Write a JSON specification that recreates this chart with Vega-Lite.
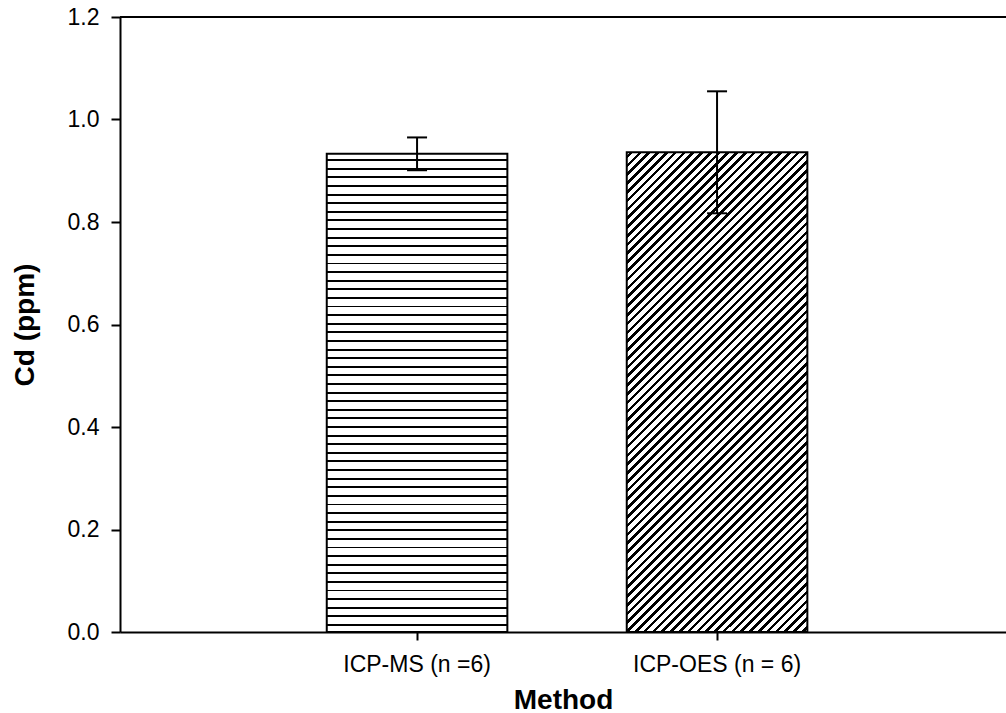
{
  "$schema": "https://vega.github.io/schema/vega-lite/v6.json",
  "autosize": "none",
  "padding": {"left": 120, "top": 17, "right": 0, "bottom": 81},
  "width": 886,
  "height": 615,
  "background": "white",
  "config": {
    "view": {"stroke": null},
    "font": "Liberation Sans",
    "axis": {
      "domainColor": "black", "domainWidth": 2, "tickColor": "black", "tickWidth": 2,
      "labelColor": "black", "titleColor": "black", "labelFont": "Liberation Sans", "titleFont": "Liberation Sans",
      "grid": false
    }
  },
  "data": {"values": [
    {"method": "ICP-MS (n =6)", "mean": 0.933, "lo": 0.901, "hi": 0.965},
    {"method": "ICP-OES (n = 6)", "mean": 0.936, "lo": 0.817, "hi": 1.055}
  ]},
  "layer": [
    {
      "transform": [{"filter": "datum.method === 'ICP-MS (n =6)'"}],
      "mark": {"type": "bar", "stroke": "black", "strokeWidth": 2, "fill": {"gradient": "linear", "x1": 0, "y1": 0, "x2": 0, "y2": 1, "stops": [
        {"offset": 0, "color": "#fff"},
        {"offset": 0.0113, "color": "#fff"}, {"offset": 0.0113, "color": "#000"}, {"offset": 0.0153, "color": "#000"}, {"offset": 0.0153, "color": "#fff"},
        {"offset": 0.0293, "color": "#fff"}, {"offset": 0.0293, "color": "#000"}, {"offset": 0.0333, "color": "#000"}, {"offset": 0.0333, "color": "#fff"},
        {"offset": 0.0473, "color": "#fff"}, {"offset": 0.0473, "color": "#000"}, {"offset": 0.0513, "color": "#000"}, {"offset": 0.0513, "color": "#fff"},
        {"offset": 0.0653, "color": "#fff"}, {"offset": 0.0653, "color": "#000"}, {"offset": 0.0693, "color": "#000"}, {"offset": 0.0693, "color": "#fff"},
        {"offset": 0.0833, "color": "#fff"}, {"offset": 0.0833, "color": "#000"}, {"offset": 0.0873, "color": "#000"}, {"offset": 0.0873, "color": "#fff"},
        {"offset": 0.1013, "color": "#fff"}, {"offset": 0.1013, "color": "#000"}, {"offset": 0.1053, "color": "#000"}, {"offset": 0.1053, "color": "#fff"},
        {"offset": 0.1193, "color": "#fff"}, {"offset": 0.1193, "color": "#000"}, {"offset": 0.1233, "color": "#000"}, {"offset": 0.1233, "color": "#fff"},
        {"offset": 0.1373, "color": "#fff"}, {"offset": 0.1373, "color": "#000"}, {"offset": 0.1413, "color": "#000"}, {"offset": 0.1413, "color": "#fff"},
        {"offset": 0.1553, "color": "#fff"}, {"offset": 0.1553, "color": "#000"}, {"offset": 0.1593, "color": "#000"}, {"offset": 0.1593, "color": "#fff"},
        {"offset": 0.1733, "color": "#fff"}, {"offset": 0.1733, "color": "#000"}, {"offset": 0.1773, "color": "#000"}, {"offset": 0.1773, "color": "#fff"},
        {"offset": 0.1913, "color": "#fff"}, {"offset": 0.1913, "color": "#000"}, {"offset": 0.1953, "color": "#000"}, {"offset": 0.1953, "color": "#fff"},
        {"offset": 0.2093, "color": "#fff"}, {"offset": 0.2093, "color": "#000"}, {"offset": 0.2133, "color": "#000"}, {"offset": 0.2133, "color": "#fff"},
        {"offset": 0.2273, "color": "#fff"}, {"offset": 0.2273, "color": "#000"}, {"offset": 0.2313, "color": "#000"}, {"offset": 0.2313, "color": "#fff"},
        {"offset": 0.2453, "color": "#fff"}, {"offset": 0.2453, "color": "#000"}, {"offset": 0.2493, "color": "#000"}, {"offset": 0.2493, "color": "#fff"},
        {"offset": 0.2633, "color": "#fff"}, {"offset": 0.2633, "color": "#000"}, {"offset": 0.2673, "color": "#000"}, {"offset": 0.2673, "color": "#fff"},
        {"offset": 0.2813, "color": "#fff"}, {"offset": 0.2813, "color": "#000"}, {"offset": 0.2853, "color": "#000"}, {"offset": 0.2853, "color": "#fff"},
        {"offset": 0.2993, "color": "#fff"}, {"offset": 0.2993, "color": "#000"}, {"offset": 0.3033, "color": "#000"}, {"offset": 0.3033, "color": "#fff"},
        {"offset": 0.3173, "color": "#fff"}, {"offset": 0.3173, "color": "#000"}, {"offset": 0.3213, "color": "#000"}, {"offset": 0.3213, "color": "#fff"},
        {"offset": 0.3353, "color": "#fff"}, {"offset": 0.3353, "color": "#000"}, {"offset": 0.3393, "color": "#000"}, {"offset": 0.3393, "color": "#fff"},
        {"offset": 0.3533, "color": "#fff"}, {"offset": 0.3533, "color": "#000"}, {"offset": 0.3573, "color": "#000"}, {"offset": 0.3573, "color": "#fff"},
        {"offset": 0.3713, "color": "#fff"}, {"offset": 0.3713, "color": "#000"}, {"offset": 0.3753, "color": "#000"}, {"offset": 0.3753, "color": "#fff"},
        {"offset": 0.3893, "color": "#fff"}, {"offset": 0.3893, "color": "#000"}, {"offset": 0.3933, "color": "#000"}, {"offset": 0.3933, "color": "#fff"},
        {"offset": 0.4073, "color": "#fff"}, {"offset": 0.4073, "color": "#000"}, {"offset": 0.4113, "color": "#000"}, {"offset": 0.4113, "color": "#fff"},
        {"offset": 0.4253, "color": "#fff"}, {"offset": 0.4253, "color": "#000"}, {"offset": 0.4293, "color": "#000"}, {"offset": 0.4293, "color": "#fff"},
        {"offset": 0.4433, "color": "#fff"}, {"offset": 0.4433, "color": "#000"}, {"offset": 0.4473, "color": "#000"}, {"offset": 0.4473, "color": "#fff"},
        {"offset": 0.4613, "color": "#fff"}, {"offset": 0.4613, "color": "#000"}, {"offset": 0.4653, "color": "#000"}, {"offset": 0.4653, "color": "#fff"},
        {"offset": 0.4793, "color": "#fff"}, {"offset": 0.4793, "color": "#000"}, {"offset": 0.4833, "color": "#000"}, {"offset": 0.4833, "color": "#fff"},
        {"offset": 0.4973, "color": "#fff"}, {"offset": 0.4973, "color": "#000"}, {"offset": 0.5013, "color": "#000"}, {"offset": 0.5013, "color": "#fff"},
        {"offset": 0.5153, "color": "#fff"}, {"offset": 0.5153, "color": "#000"}, {"offset": 0.5193, "color": "#000"}, {"offset": 0.5193, "color": "#fff"},
        {"offset": 0.5333, "color": "#fff"}, {"offset": 0.5333, "color": "#000"}, {"offset": 0.5373, "color": "#000"}, {"offset": 0.5373, "color": "#fff"},
        {"offset": 0.5513, "color": "#fff"}, {"offset": 0.5513, "color": "#000"}, {"offset": 0.5553, "color": "#000"}, {"offset": 0.5553, "color": "#fff"},
        {"offset": 0.5693, "color": "#fff"}, {"offset": 0.5693, "color": "#000"}, {"offset": 0.5733, "color": "#000"}, {"offset": 0.5733, "color": "#fff"},
        {"offset": 0.5873, "color": "#fff"}, {"offset": 0.5873, "color": "#000"}, {"offset": 0.5913, "color": "#000"}, {"offset": 0.5913, "color": "#fff"},
        {"offset": 0.6053, "color": "#fff"}, {"offset": 0.6053, "color": "#000"}, {"offset": 0.6093, "color": "#000"}, {"offset": 0.6093, "color": "#fff"},
        {"offset": 0.6233, "color": "#fff"}, {"offset": 0.6233, "color": "#000"}, {"offset": 0.6273, "color": "#000"}, {"offset": 0.6273, "color": "#fff"},
        {"offset": 0.6413, "color": "#fff"}, {"offset": 0.6413, "color": "#000"}, {"offset": 0.6453, "color": "#000"}, {"offset": 0.6453, "color": "#fff"},
        {"offset": 0.6593, "color": "#fff"}, {"offset": 0.6593, "color": "#000"}, {"offset": 0.6633, "color": "#000"}, {"offset": 0.6633, "color": "#fff"},
        {"offset": 0.6773, "color": "#fff"}, {"offset": 0.6773, "color": "#000"}, {"offset": 0.6813, "color": "#000"}, {"offset": 0.6813, "color": "#fff"},
        {"offset": 0.6953, "color": "#fff"}, {"offset": 0.6953, "color": "#000"}, {"offset": 0.6993, "color": "#000"}, {"offset": 0.6993, "color": "#fff"},
        {"offset": 0.7133, "color": "#fff"}, {"offset": 0.7133, "color": "#000"}, {"offset": 0.7173, "color": "#000"}, {"offset": 0.7173, "color": "#fff"},
        {"offset": 0.7313, "color": "#fff"}, {"offset": 0.7313, "color": "#000"}, {"offset": 0.7353, "color": "#000"}, {"offset": 0.7353, "color": "#fff"},
        {"offset": 0.7493, "color": "#fff"}, {"offset": 0.7493, "color": "#000"}, {"offset": 0.7533, "color": "#000"}, {"offset": 0.7533, "color": "#fff"},
        {"offset": 0.7673, "color": "#fff"}, {"offset": 0.7673, "color": "#000"}, {"offset": 0.7713, "color": "#000"}, {"offset": 0.7713, "color": "#fff"},
        {"offset": 0.7853, "color": "#fff"}, {"offset": 0.7853, "color": "#000"}, {"offset": 0.7893, "color": "#000"}, {"offset": 0.7893, "color": "#fff"},
        {"offset": 0.8033, "color": "#fff"}, {"offset": 0.8033, "color": "#000"}, {"offset": 0.8073, "color": "#000"}, {"offset": 0.8073, "color": "#fff"},
        {"offset": 0.8213, "color": "#fff"}, {"offset": 0.8213, "color": "#000"}, {"offset": 0.8253, "color": "#000"}, {"offset": 0.8253, "color": "#fff"},
        {"offset": 0.8393, "color": "#fff"}, {"offset": 0.8393, "color": "#000"}, {"offset": 0.8433, "color": "#000"}, {"offset": 0.8433, "color": "#fff"},
        {"offset": 0.8573, "color": "#fff"}, {"offset": 0.8573, "color": "#000"}, {"offset": 0.8613, "color": "#000"}, {"offset": 0.8613, "color": "#fff"},
        {"offset": 0.8753, "color": "#fff"}, {"offset": 0.8753, "color": "#000"}, {"offset": 0.8793, "color": "#000"}, {"offset": 0.8793, "color": "#fff"},
        {"offset": 0.8933, "color": "#fff"}, {"offset": 0.8933, "color": "#000"}, {"offset": 0.8973, "color": "#000"}, {"offset": 0.8973, "color": "#fff"},
        {"offset": 0.9113, "color": "#fff"}, {"offset": 0.9113, "color": "#000"}, {"offset": 0.9153, "color": "#000"}, {"offset": 0.9153, "color": "#fff"},
        {"offset": 0.9293, "color": "#fff"}, {"offset": 0.9293, "color": "#000"}, {"offset": 0.9333, "color": "#000"}, {"offset": 0.9333, "color": "#fff"},
        {"offset": 0.9473, "color": "#fff"}, {"offset": 0.9473, "color": "#000"}, {"offset": 0.9513, "color": "#000"}, {"offset": 0.9513, "color": "#fff"},
        {"offset": 0.9653, "color": "#fff"}, {"offset": 0.9653, "color": "#000"}, {"offset": 0.9693, "color": "#000"}, {"offset": 0.9693, "color": "#fff"},
        {"offset": 0.9833, "color": "#fff"}, {"offset": 0.9833, "color": "#000"}, {"offset": 0.9873, "color": "#000"}, {"offset": 0.9873, "color": "#fff"},
        {"offset": 1, "color": "#fff"}
      ]}},
      "encoding": {
        "x": {"field": "method", "type": "nominal", "sort": null,
          "scale": {"type": "band", "paddingInner": 0.398, "paddingOuter": 0.6757, "align": 0.51, "round": false},
          "axis": {"title": "Method", "labelAngle": 0, "labelFontSize": 23, "labelBaseline": "alphabetic", "tickSize": 8, "labelPadding": 31,
            "titleFontSize": 28, "titleFontWeight": "bold", "titleY": 76, "titleBaseline": "alphabetic"}},
        "y": {"field": "mean", "type": "quantitative",
          "scale": {"domain": [0, 1.2], "nice": false, "zero": true},
          "axis": {"title": "Cd (ppm)", "values": [0, 0.2, 0.4, 0.6, 0.8, 1.0, 1.2], "format": ".1f", "labelFontSize": 23, "tickSize": 9, "labelPadding": 12,
            "titleFontSize": 28, "titleFontWeight": "bold", "titleX": -95, "titleBaseline": "middle"}}
      }
    },
    {
      "transform": [{"filter": "datum.method === 'ICP-OES (n = 6)'"}],
      "mark": {"type": "bar", "stroke": "black", "strokeWidth": 2, "fill": {"gradient": "linear", "x1": 0, "y1": 0, "x2": 0.454, "y2": 1.206, "stops": [
        {"offset": 0, "color": "#fff"},
        {"offset": 0.0050, "color": "#fff"}, {"offset": 0.0050, "color": "#000"}, {"offset": 0.0105, "color": "#000"}, {"offset": 0.0105, "color": "#fff"},
        {"offset": 0.0183, "color": "#fff"}, {"offset": 0.0183, "color": "#000"}, {"offset": 0.0238, "color": "#000"}, {"offset": 0.0238, "color": "#fff"},
        {"offset": 0.0316, "color": "#fff"}, {"offset": 0.0316, "color": "#000"}, {"offset": 0.0371, "color": "#000"}, {"offset": 0.0371, "color": "#fff"},
        {"offset": 0.0449, "color": "#fff"}, {"offset": 0.0449, "color": "#000"}, {"offset": 0.0504, "color": "#000"}, {"offset": 0.0504, "color": "#fff"},
        {"offset": 0.0582, "color": "#fff"}, {"offset": 0.0582, "color": "#000"}, {"offset": 0.0637, "color": "#000"}, {"offset": 0.0637, "color": "#fff"},
        {"offset": 0.0715, "color": "#fff"}, {"offset": 0.0715, "color": "#000"}, {"offset": 0.0770, "color": "#000"}, {"offset": 0.0770, "color": "#fff"},
        {"offset": 0.0848, "color": "#fff"}, {"offset": 0.0848, "color": "#000"}, {"offset": 0.0903, "color": "#000"}, {"offset": 0.0903, "color": "#fff"},
        {"offset": 0.0981, "color": "#fff"}, {"offset": 0.0981, "color": "#000"}, {"offset": 0.1036, "color": "#000"}, {"offset": 0.1036, "color": "#fff"},
        {"offset": 0.1114, "color": "#fff"}, {"offset": 0.1114, "color": "#000"}, {"offset": 0.1169, "color": "#000"}, {"offset": 0.1169, "color": "#fff"},
        {"offset": 0.1247, "color": "#fff"}, {"offset": 0.1247, "color": "#000"}, {"offset": 0.1302, "color": "#000"}, {"offset": 0.1302, "color": "#fff"},
        {"offset": 0.1380, "color": "#fff"}, {"offset": 0.1380, "color": "#000"}, {"offset": 0.1435, "color": "#000"}, {"offset": 0.1435, "color": "#fff"},
        {"offset": 0.1513, "color": "#fff"}, {"offset": 0.1513, "color": "#000"}, {"offset": 0.1568, "color": "#000"}, {"offset": 0.1568, "color": "#fff"},
        {"offset": 0.1646, "color": "#fff"}, {"offset": 0.1646, "color": "#000"}, {"offset": 0.1701, "color": "#000"}, {"offset": 0.1701, "color": "#fff"},
        {"offset": 0.1779, "color": "#fff"}, {"offset": 0.1779, "color": "#000"}, {"offset": 0.1834, "color": "#000"}, {"offset": 0.1834, "color": "#fff"},
        {"offset": 0.1912, "color": "#fff"}, {"offset": 0.1912, "color": "#000"}, {"offset": 0.1967, "color": "#000"}, {"offset": 0.1967, "color": "#fff"},
        {"offset": 0.2045, "color": "#fff"}, {"offset": 0.2045, "color": "#000"}, {"offset": 0.2100, "color": "#000"}, {"offset": 0.2100, "color": "#fff"},
        {"offset": 0.2178, "color": "#fff"}, {"offset": 0.2178, "color": "#000"}, {"offset": 0.2233, "color": "#000"}, {"offset": 0.2233, "color": "#fff"},
        {"offset": 0.2311, "color": "#fff"}, {"offset": 0.2311, "color": "#000"}, {"offset": 0.2366, "color": "#000"}, {"offset": 0.2366, "color": "#fff"},
        {"offset": 0.2444, "color": "#fff"}, {"offset": 0.2444, "color": "#000"}, {"offset": 0.2499, "color": "#000"}, {"offset": 0.2499, "color": "#fff"},
        {"offset": 0.2577, "color": "#fff"}, {"offset": 0.2577, "color": "#000"}, {"offset": 0.2632, "color": "#000"}, {"offset": 0.2632, "color": "#fff"},
        {"offset": 0.2710, "color": "#fff"}, {"offset": 0.2710, "color": "#000"}, {"offset": 0.2765, "color": "#000"}, {"offset": 0.2765, "color": "#fff"},
        {"offset": 0.2843, "color": "#fff"}, {"offset": 0.2843, "color": "#000"}, {"offset": 0.2898, "color": "#000"}, {"offset": 0.2898, "color": "#fff"},
        {"offset": 0.2976, "color": "#fff"}, {"offset": 0.2976, "color": "#000"}, {"offset": 0.3031, "color": "#000"}, {"offset": 0.3031, "color": "#fff"},
        {"offset": 0.3109, "color": "#fff"}, {"offset": 0.3109, "color": "#000"}, {"offset": 0.3164, "color": "#000"}, {"offset": 0.3164, "color": "#fff"},
        {"offset": 0.3242, "color": "#fff"}, {"offset": 0.3242, "color": "#000"}, {"offset": 0.3297, "color": "#000"}, {"offset": 0.3297, "color": "#fff"},
        {"offset": 0.3375, "color": "#fff"}, {"offset": 0.3375, "color": "#000"}, {"offset": 0.3430, "color": "#000"}, {"offset": 0.3430, "color": "#fff"},
        {"offset": 0.3508, "color": "#fff"}, {"offset": 0.3508, "color": "#000"}, {"offset": 0.3563, "color": "#000"}, {"offset": 0.3563, "color": "#fff"},
        {"offset": 0.3641, "color": "#fff"}, {"offset": 0.3641, "color": "#000"}, {"offset": 0.3696, "color": "#000"}, {"offset": 0.3696, "color": "#fff"},
        {"offset": 0.3774, "color": "#fff"}, {"offset": 0.3774, "color": "#000"}, {"offset": 0.3829, "color": "#000"}, {"offset": 0.3829, "color": "#fff"},
        {"offset": 0.3907, "color": "#fff"}, {"offset": 0.3907, "color": "#000"}, {"offset": 0.3962, "color": "#000"}, {"offset": 0.3962, "color": "#fff"},
        {"offset": 0.4040, "color": "#fff"}, {"offset": 0.4040, "color": "#000"}, {"offset": 0.4095, "color": "#000"}, {"offset": 0.4095, "color": "#fff"},
        {"offset": 0.4173, "color": "#fff"}, {"offset": 0.4173, "color": "#000"}, {"offset": 0.4228, "color": "#000"}, {"offset": 0.4228, "color": "#fff"},
        {"offset": 0.4306, "color": "#fff"}, {"offset": 0.4306, "color": "#000"}, {"offset": 0.4361, "color": "#000"}, {"offset": 0.4361, "color": "#fff"},
        {"offset": 0.4439, "color": "#fff"}, {"offset": 0.4439, "color": "#000"}, {"offset": 0.4494, "color": "#000"}, {"offset": 0.4494, "color": "#fff"},
        {"offset": 0.4572, "color": "#fff"}, {"offset": 0.4572, "color": "#000"}, {"offset": 0.4627, "color": "#000"}, {"offset": 0.4627, "color": "#fff"},
        {"offset": 0.4705, "color": "#fff"}, {"offset": 0.4705, "color": "#000"}, {"offset": 0.4760, "color": "#000"}, {"offset": 0.4760, "color": "#fff"},
        {"offset": 0.4838, "color": "#fff"}, {"offset": 0.4838, "color": "#000"}, {"offset": 0.4893, "color": "#000"}, {"offset": 0.4893, "color": "#fff"},
        {"offset": 0.4971, "color": "#fff"}, {"offset": 0.4971, "color": "#000"}, {"offset": 0.5026, "color": "#000"}, {"offset": 0.5026, "color": "#fff"},
        {"offset": 0.5104, "color": "#fff"}, {"offset": 0.5104, "color": "#000"}, {"offset": 0.5159, "color": "#000"}, {"offset": 0.5159, "color": "#fff"},
        {"offset": 0.5237, "color": "#fff"}, {"offset": 0.5237, "color": "#000"}, {"offset": 0.5292, "color": "#000"}, {"offset": 0.5292, "color": "#fff"},
        {"offset": 0.5370, "color": "#fff"}, {"offset": 0.5370, "color": "#000"}, {"offset": 0.5425, "color": "#000"}, {"offset": 0.5425, "color": "#fff"},
        {"offset": 0.5503, "color": "#fff"}, {"offset": 0.5503, "color": "#000"}, {"offset": 0.5558, "color": "#000"}, {"offset": 0.5558, "color": "#fff"},
        {"offset": 0.5636, "color": "#fff"}, {"offset": 0.5636, "color": "#000"}, {"offset": 0.5691, "color": "#000"}, {"offset": 0.5691, "color": "#fff"},
        {"offset": 0.5769, "color": "#fff"}, {"offset": 0.5769, "color": "#000"}, {"offset": 0.5824, "color": "#000"}, {"offset": 0.5824, "color": "#fff"},
        {"offset": 0.5902, "color": "#fff"}, {"offset": 0.5902, "color": "#000"}, {"offset": 0.5957, "color": "#000"}, {"offset": 0.5957, "color": "#fff"},
        {"offset": 0.6035, "color": "#fff"}, {"offset": 0.6035, "color": "#000"}, {"offset": 0.6090, "color": "#000"}, {"offset": 0.6090, "color": "#fff"},
        {"offset": 0.6168, "color": "#fff"}, {"offset": 0.6168, "color": "#000"}, {"offset": 0.6223, "color": "#000"}, {"offset": 0.6223, "color": "#fff"},
        {"offset": 0.6301, "color": "#fff"}, {"offset": 0.6301, "color": "#000"}, {"offset": 0.6356, "color": "#000"}, {"offset": 0.6356, "color": "#fff"},
        {"offset": 0.6434, "color": "#fff"}, {"offset": 0.6434, "color": "#000"}, {"offset": 0.6489, "color": "#000"}, {"offset": 0.6489, "color": "#fff"},
        {"offset": 0.6567, "color": "#fff"}, {"offset": 0.6567, "color": "#000"}, {"offset": 0.6622, "color": "#000"}, {"offset": 0.6622, "color": "#fff"},
        {"offset": 0.6700, "color": "#fff"}, {"offset": 0.6700, "color": "#000"}, {"offset": 0.6755, "color": "#000"}, {"offset": 0.6755, "color": "#fff"},
        {"offset": 0.6833, "color": "#fff"}, {"offset": 0.6833, "color": "#000"}, {"offset": 0.6888, "color": "#000"}, {"offset": 0.6888, "color": "#fff"},
        {"offset": 0.6966, "color": "#fff"}, {"offset": 0.6966, "color": "#000"}, {"offset": 0.7021, "color": "#000"}, {"offset": 0.7021, "color": "#fff"},
        {"offset": 0.7099, "color": "#fff"}, {"offset": 0.7099, "color": "#000"}, {"offset": 0.7154, "color": "#000"}, {"offset": 0.7154, "color": "#fff"},
        {"offset": 0.7232, "color": "#fff"}, {"offset": 0.7232, "color": "#000"}, {"offset": 0.7287, "color": "#000"}, {"offset": 0.7287, "color": "#fff"},
        {"offset": 0.7365, "color": "#fff"}, {"offset": 0.7365, "color": "#000"}, {"offset": 0.7420, "color": "#000"}, {"offset": 0.7420, "color": "#fff"},
        {"offset": 0.7498, "color": "#fff"}, {"offset": 0.7498, "color": "#000"}, {"offset": 0.7553, "color": "#000"}, {"offset": 0.7553, "color": "#fff"},
        {"offset": 0.7631, "color": "#fff"}, {"offset": 0.7631, "color": "#000"}, {"offset": 0.7686, "color": "#000"}, {"offset": 0.7686, "color": "#fff"},
        {"offset": 0.7764, "color": "#fff"}, {"offset": 0.7764, "color": "#000"}, {"offset": 0.7819, "color": "#000"}, {"offset": 0.7819, "color": "#fff"},
        {"offset": 0.7897, "color": "#fff"}, {"offset": 0.7897, "color": "#000"}, {"offset": 0.7952, "color": "#000"}, {"offset": 0.7952, "color": "#fff"},
        {"offset": 0.8030, "color": "#fff"}, {"offset": 0.8030, "color": "#000"}, {"offset": 0.8085, "color": "#000"}, {"offset": 0.8085, "color": "#fff"},
        {"offset": 0.8163, "color": "#fff"}, {"offset": 0.8163, "color": "#000"}, {"offset": 0.8218, "color": "#000"}, {"offset": 0.8218, "color": "#fff"},
        {"offset": 0.8296, "color": "#fff"}, {"offset": 0.8296, "color": "#000"}, {"offset": 0.8351, "color": "#000"}, {"offset": 0.8351, "color": "#fff"},
        {"offset": 0.8429, "color": "#fff"}, {"offset": 0.8429, "color": "#000"}, {"offset": 0.8484, "color": "#000"}, {"offset": 0.8484, "color": "#fff"},
        {"offset": 0.8562, "color": "#fff"}, {"offset": 0.8562, "color": "#000"}, {"offset": 0.8617, "color": "#000"}, {"offset": 0.8617, "color": "#fff"},
        {"offset": 0.8695, "color": "#fff"}, {"offset": 0.8695, "color": "#000"}, {"offset": 0.8750, "color": "#000"}, {"offset": 0.8750, "color": "#fff"},
        {"offset": 0.8828, "color": "#fff"}, {"offset": 0.8828, "color": "#000"}, {"offset": 0.8883, "color": "#000"}, {"offset": 0.8883, "color": "#fff"},
        {"offset": 0.8961, "color": "#fff"}, {"offset": 0.8961, "color": "#000"}, {"offset": 0.9016, "color": "#000"}, {"offset": 0.9016, "color": "#fff"},
        {"offset": 0.9094, "color": "#fff"}, {"offset": 0.9094, "color": "#000"}, {"offset": 0.9149, "color": "#000"}, {"offset": 0.9149, "color": "#fff"},
        {"offset": 0.9227, "color": "#fff"}, {"offset": 0.9227, "color": "#000"}, {"offset": 0.9282, "color": "#000"}, {"offset": 0.9282, "color": "#fff"},
        {"offset": 0.9360, "color": "#fff"}, {"offset": 0.9360, "color": "#000"}, {"offset": 0.9415, "color": "#000"}, {"offset": 0.9415, "color": "#fff"},
        {"offset": 0.9493, "color": "#fff"}, {"offset": 0.9493, "color": "#000"}, {"offset": 0.9548, "color": "#000"}, {"offset": 0.9548, "color": "#fff"},
        {"offset": 0.9626, "color": "#fff"}, {"offset": 0.9626, "color": "#000"}, {"offset": 0.9681, "color": "#000"}, {"offset": 0.9681, "color": "#fff"},
        {"offset": 0.9759, "color": "#fff"}, {"offset": 0.9759, "color": "#000"}, {"offset": 0.9814, "color": "#000"}, {"offset": 0.9814, "color": "#fff"},
        {"offset": 0.9892, "color": "#fff"}, {"offset": 0.9892, "color": "#000"}, {"offset": 0.9947, "color": "#000"}, {"offset": 0.9947, "color": "#fff"},
        {"offset": 1, "color": "#fff"}
      ]}},
      "encoding": {
        "x": {"field": "method", "type": "nominal", "sort": null},
        "y": {"field": "mean", "type": "quantitative"}
      }
    },
    {
      "mark": {"type": "rule", "color": "black", "strokeWidth": 2},
      "encoding": {
        "x": {"field": "method", "type": "nominal", "sort": null},
        "y": {"field": "lo", "type": "quantitative"},
        "y2": {"field": "hi"}
      }
    },
    {
      "mark": {"type": "tick", "color": "black", "size": 20, "thickness": 2, "opacity": 1},
      "encoding": {
        "x": {"field": "method", "type": "nominal", "sort": null},
        "y": {"field": "lo", "type": "quantitative"}
      }
    },
    {
      "mark": {"type": "tick", "color": "black", "size": 20, "thickness": 2, "opacity": 1},
      "encoding": {
        "x": {"field": "method", "type": "nominal", "sort": null},
        "y": {"field": "hi", "type": "quantitative"}
      }
    },
    {
      "mark": {"type": "rule", "color": "black", "strokeWidth": 2},
      "encoding": {"y": {"datum": 1.2}}
    }
  ]
}
